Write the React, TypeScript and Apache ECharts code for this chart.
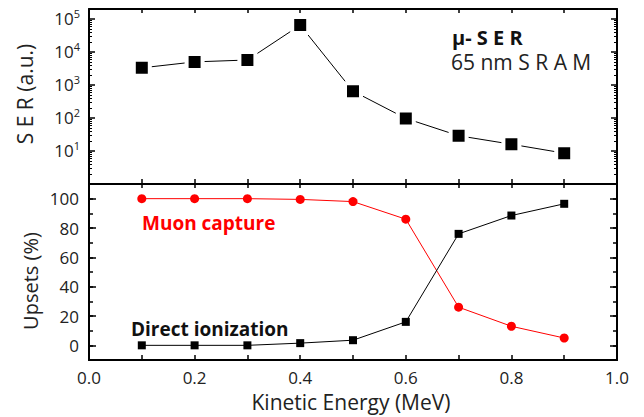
import React, { useEffect, useRef } from "react";
import * as echarts from "echarts";

const energies = [0.1, 0.2, 0.3, 0.4, 0.5, 0.6, 0.7, 0.8, 0.9];
const serValues = [3300, 5000, 5700, 65000, 650, 97, 29, 16, 8.6];
const muonCapture = [100, 100, 100, 99.5, 98, 86, 26, 13, 5];
const directIonization = [0, 0, 0, 1.5, 3.5, 16, 76, 88.5, 96.5];
const xTickLabels = ["0.0", "0.2", "0.4", "0.6", "0.8", "1.0"];
const serTitle = "S E R (a.u.)";
const upsetsTitle = "Upsets (%)";
const xTitle = "Kinetic Energy (MeV)";
const note1 = "μ- S E R";
const note2 = "65 nm S R A M";
const muonLabel = "Muon capture";
const directLabel = "Direct ionization";

const FONT = "Open Sans";
const LINE = { color: "#000", width: 2 };

export default function App() {
  const ref = useRef<HTMLDivElement>(null);
  useEffect(() => {
    if (!ref.current) return;
    const chart = echarts.init(ref.current, null, { renderer: "svg" });
    const pair = (vals: number[]) => energies.map((e, i) => [e, vals[i]]);
    const xBase = (grid: number, pos: "top" | "bottom", labels: boolean, len: number) => ({
      type: "value",
      gridIndex: grid,
      position: pos,
      min: 0,
      max: 1,
      interval: 0.1,
      axisLine: { show: true, onZero: false, lineStyle: LINE },
      axisTick: { show: true, inside: true, length: len, lineStyle: { color: "#000", width: 1.5 } },
      splitLine: { show: false },
      axisLabel: labels
        ? {
            show: true,
            margin: 9,
            fontFamily: FONT,
            fontSize: 17,
            color: "#222",
            formatter: (v: number) => {
              const k = Math.round(v * 10);
              return k % 2 === 0 ? xTickLabels[k / 2] : "";
            },
          }
        : { show: false },
    });
    const logAxis = (pos: "left" | "right", labels: boolean) => ({
      type: "log",
      gridIndex: 0,
      position: pos,
      logBase: 10,
      min: 1,
      max: 200000,
      axisLine: { show: true, onZero: false, lineStyle: LINE },
      axisTick: { show: true, inside: true, length: 6, lineStyle: { color: "#000", width: 1.5 } },
      minorTick: { show: true, splitNumber: 9, length: 3, lineStyle: { color: "#000", width: 1 } },
      splitLine: { show: false },
      minorSplitLine: { show: false },
      axisLabel: labels
        ? {
            show: true,
            margin: 9,
            formatter: (v: number) => {
              const l = Math.log10(v);
              const e = Math.round(l);
              if (Math.abs(l - e) > 1e-6 || e < 1 || e > 5) return "";
              return `{b|10}{s|${e}}`;
            },
            rich: {
              b: { fontFamily: FONT, fontSize: 17, color: "#222", lineHeight: 22 },
              s: { fontFamily: FONT, fontSize: 11, color: "#222", lineHeight: 10, verticalAlign: "top" },
            },
          }
        : { show: false },
    });
    const pctAxis = (pos: "left" | "right", major: boolean) => ({
      type: "value",
      gridIndex: 1,
      position: pos,
      min: -10,
      max: 110,
      ...(major ? { splitNumber: 6 } : { interval: 10 }),
      axisLine: { show: true, onZero: false, lineStyle: LINE },
      axisTick: { show: true, inside: true, length: major ? 7 : 4, lineStyle: { color: "#000", width: 1.5 } },
      splitLine: { show: false },
      axisLabel:
        major && pos === "left"
          ? {
              show: true,
              margin: 10,
              fontFamily: FONT,
              fontSize: 17,
              color: "#222",
              formatter: (v: number) => (v >= 0 && v <= 100 && v % 20 === 0 ? String(v) : ""),
            }
          : { show: false },
    });

    chart.setOption({
      animation: false,
      backgroundColor: "#fff",
      grid: [
        { left: 89, right: 27, top: 9, height: 175 },
        { left: 89, right: 27, top: 184, height: 176 },
      ],
      xAxis: [
        xBase(0, "bottom", false, 5),
        xBase(0, "top", false, 4),
        xBase(1, "bottom", true, 5),
        xBase(1, "top", false, 4),
      ],
      yAxis: [
        logAxis("left", true),
        logAxis("right", false),
        pctAxis("left", false),
        pctAxis("right", false),
        pctAxis("left", true),
        pctAxis("right", true),
      ],
      series: [
        {
          type: "line",
          xAxisIndex: 0,
          yAxisIndex: 0,
          data: pair(serValues),
          symbol: "rect",
          symbolSize: 16,
          lineStyle: { color: "#000", width: 1 },
          itemStyle: { color: "#000", borderColor: "#fff", borderWidth: 4 },
        },
        {
          type: "line",
          xAxisIndex: 2,
          yAxisIndex: 2,
          data: pair(muonCapture),
          symbol: "circle",
          symbolSize: 9,
          lineStyle: { color: "#ff0000", width: 1 },
          itemStyle: { color: "#ff0000" },
        },
        {
          type: "line",
          xAxisIndex: 2,
          yAxisIndex: 2,
          data: pair(directIonization),
          symbol: "rect",
          symbolSize: 8,
          lineStyle: { color: "#000", width: 1 },
          itemStyle: { color: "#000" },
        },
      ],
      graphic: [
        {
          type: "text",
          x: 25,
          y: 94,
          rotation: Math.PI / 2,
          style: { text: serTitle, fontFamily: FONT, fontSize: 21, fill: "#222", align: "center", verticalAlign: "middle" },
        },
        {
          type: "text",
          x: 30,
          y: 281,
          rotation: Math.PI / 2,
          style: { text: upsetsTitle, fontFamily: FONT, fontSize: 20, fill: "#222", align: "center", verticalAlign: "middle" },
        },
        {
          type: "text",
          x: 351,
          y: 402,
          style: { text: xTitle, fontFamily: FONT, fontSize: 21, fill: "#222", align: "center", verticalAlign: "middle" },
        },
        {
          type: "text",
          x: 452,
          y: 37,
          style: { text: note1, fontFamily: FONT, fontSize: 20, fontWeight: "bold", fill: "#111", align: "left", verticalAlign: "middle" },
        },
        {
          type: "text",
          x: 451,
          y: 62,
          style: { text: note2, fontFamily: FONT, fontSize: 21, fill: "#222", align: "left", verticalAlign: "middle" },
        },
        {
          type: "text",
          x: 142,
          y: 223,
          style: { text: muonLabel, fontFamily: FONT, fontSize: 19, fontWeight: "bold", fill: "#ff0000", align: "left", verticalAlign: "middle" },
        },
        {
          type: "text",
          x: 131,
          y: 329,
          style: { text: directLabel, fontFamily: FONT, fontSize: 19, fontWeight: "bold", fill: "#111", align: "left", verticalAlign: "middle" },
        },
      ],
    });
    return () => chart.dispose();
  }, []);
  return <div ref={ref} style={{ position: "fixed", left: 0, top: 0, width: 644, height: 417 }} />;
}
